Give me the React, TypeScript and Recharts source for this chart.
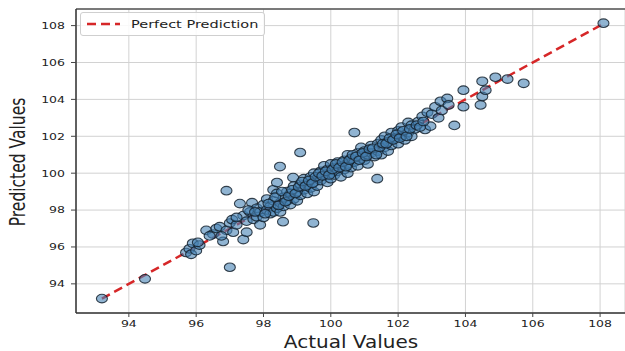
import React from "react";
import {
  ScatterChart,
  Scatter,
  XAxis,
  YAxis,
  CartesianGrid,
  ReferenceLine,
  Legend,
} from "recharts";

const actualValues: number[] = [
  93.2, 94.48, 95.7, 95.8, 95.85, 95.9, 96.0, 96.1, 96.05,
  96.3, 96.5, 96.6, 96.7, 96.8, 96.9, 96.9, 97.0, 97.0, 97.07, 97.1, 97.2, 97.3, 97.4, 97.4, 97.5, 97.5, 97.6,
  97.66, 97.7, 97.8, 97.8, 97.9, 97.9, 98.0, 98.0, 98.1, 98.1, 98.2, 98.2, 98.3, 98.3, 98.29, 98.4, 98.4, 98.4, 98.49, 98.5, 98.5, 98.58,
  98.6, 98.6, 98.7, 98.7, 98.8, 98.8, 98.88, 98.9, 98.9, 99.0, 99.0, 99.09, 99.1, 99.1, 99.2, 99.2, 99.3, 99.3, 99.4, 99.4, 99.48, 99.5, 99.5, 99.5,
  99.6, 99.6, 99.7, 99.7, 99.8, 99.8, 99.9, 99.9, 100.0, 100.0, 100.0, 100.1, 100.1, 100.2, 100.2, 100.3, 100.3, 100.4, 100.4, 100.5, 100.5, 100.5,
  100.6, 100.6, 100.7, 100.7, 100.8, 100.8, 100.9, 100.9, 101.0, 101.0, 101.1, 101.1, 101.2, 101.2, 101.3, 101.38, 101.4, 101.4, 101.5, 101.5,
  101.6, 101.6, 101.7, 101.7, 101.8, 101.8, 101.9, 102.0, 102.0, 102.1, 102.1, 102.2, 102.3, 102.3, 102.4, 102.4, 102.5,
  102.6, 102.72, 102.8, 102.87, 102.96, 103.0, 103.1, 103.2, 103.26, 103.3, 103.46, 103.5, 103.67, 103.94, 103.94, 104.45, 104.5, 104.6, 104.5, 104.89, 105.25, 105.73, 108.1,
  96.4, 96.75, 97.2, 97.55, 97.75, 98.05, 98.15, 98.35, 98.45, 98.55, 98.65, 98.75, 98.85, 98.95, 99.05, 99.15, 99.25, 99.35, 99.45, 99.55,
  99.65, 99.75, 99.85, 99.95, 100.05, 100.15, 100.25, 100.35, 100.45, 100.55, 100.65, 100.75, 100.85, 100.95, 101.05, 101.15, 101.25, 101.35,
  101.45, 101.55, 101.65, 101.75, 101.85, 101.95, 102.05, 102.15, 102.25, 102.35, 102.55, 102.65, 102.75,
];

const predictedValues: number[] = [
  93.2, 94.27, 95.7, 95.9, 95.6, 96.2, 95.8, 96.1, 96.25,
  96.9, 96.7, 97.0, 97.1, 96.3, 96.9, 99.05, 94.9, 97.3, 97.48, 96.8, 97.2, 98.35, 96.4, 97.7, 96.8, 97.4, 97.9,
  98.4, 97.5, 97.64, 98.1, 97.2, 97.9, 98.3, 97.6, 98.0, 98.6, 97.8, 98.2, 98.5, 97.9, 99.1, 98.9, 98.1, 99.49, 100.36, 98.4, 97.9, 97.37,
  98.7, 98.2, 99.0, 98.5, 98.3, 98.9, 99.76, 99.3, 98.6, 99.0, 98.5, 101.12, 99.4, 98.8, 99.1, 99.7, 98.9, 99.4, 99.8, 99.2, 97.3, 99.5, 99.0, 100.0,
  99.7, 99.3, 100.1, 99.6, 99.9, 100.4, 99.5, 100.2, 100.0, 100.5, 99.7, 100.3, 99.9, 100.6, 100.1, 99.8, 100.4, 100.7, 100.2, 100.5, 100.0, 101.0,
  100.3, 100.8, 102.2, 100.6, 101.1, 100.4, 100.9, 101.4, 100.7, 101.2, 101.0, 100.5, 101.5, 101.1, 100.9, 99.7, 101.6, 101.2, 101.0, 101.8,
  101.4, 102.0, 101.2, 101.7, 102.2, 101.5, 101.9, 102.3, 101.6, 102.0, 102.5, 101.8, 102.2, 102.75, 102.6, 102.0, 102.4,
  102.8, 103.08, 102.37, 103.3, 102.55, 103.2, 103.6, 103.0, 103.9, 103.4, 104.05, 103.7, 102.59, 104.5, 103.6, 103.7, 104.16, 104.5, 104.98, 105.2, 105.1, 104.87, 108.13,
  96.6, 96.6, 97.6, 98.0, 97.9, 97.8, 98.35, 98.7, 98.25, 99.0, 98.45, 98.75, 99.1, 98.9, 99.25, 99.55, 99.3, 99.6, 99.45, 99.8,
  100.0, 99.85, 100.1, 99.9, 100.2, 100.5, 100.3, 100.6, 100.35, 100.7, 101.0, 100.9, 100.7, 101.1, 100.9, 101.3, 101.35, 101.0,
  101.4, 101.6, 101.6, 101.9, 101.8, 102.1, 101.9, 102.3, 102.0, 102.4, 102.6, 102.5, 102.8,
];

const tickValues: number[] = [94, 96, 98, 100, 102, 104, 106, 108];
const lineStart = 93.2;
const lineEnd = 108.1;
const legendLabel = "Perfect Prediction";
const xLabel = "Actual Values";
const yLabel = "Predicted Values";

const data = actualValues.map((a, i) => ({ actual: a, predicted: predictedValues[i] }));

const FONT = "DejaVu Sans";

const XTick = (props: any) => {
  const { x, y, payload } = props;
  return (
    <g transform={`translate(${x},${y})`}>
      <text transform="scale(1,0.75)" y={0} dy="0.8em" textAnchor="middle" fontSize={12.5} fontFamily={FONT} fill="#222">
        {payload.value}
      </text>
    </g>
  );
};

const YTick = (props: any) => {
  const { x, y, payload } = props;
  return (
    <g transform={`translate(${x - 4},${y})`}>
      <text transform="scale(1,0.75)" dy="0.36em" textAnchor="end" fontSize={12.5} fontFamily={FONT} fill="#222">
        {payload.value}
      </text>
    </g>
  );
};

const Dot = (props: any) => {
  const { cx, cy } = props;
  if (cx == null || cy == null) return null;
  return (
    <ellipse
      cx={cx}
      cy={cy}
      rx={5.5}
      ry={4.3}
      fill="#4682b4"
      fillOpacity={0.6}
      stroke="#15222e"
      strokeOpacity={0.85}
      strokeWidth={1.1}
    />
  );
};

const LegendBox = () => (
  <div
    style={{
      display: "flex",
      alignItems: "center",
      border: "1px solid #cfcfcf",
      borderRadius: 3,
      background: "rgba(255,255,255,0.85)",
      width: 185,
      height: 24,
      boxSizing: "border-box",
      paddingLeft: 5,
    }}
  >
    <svg width={36} height={10} style={{ display: "block" }}>
      <line x1={1} y1={5} x2={34} y2={5} stroke="#d62728" strokeWidth={2.5} strokeDasharray="9 5" />
    </svg>
    <span
      style={{
        fontFamily: FONT,
        fontSize: 14.5,
        color: "#222",
        marginLeft: 9,
        display: "inline-block",
        transform: "scaleY(0.74)",
        whiteSpace: "nowrap",
        lineHeight: "14px",
      }}
    >
      {legendLabel}
    </span>
  </div>
);

const YLabel = () => (
  <text
    transform="translate(25,162) rotate(-90) scale(0.74,1)"
    textAnchor="middle"
    fontSize={21}
    fontFamily={FONT}
    fill="#222"
  >
    {yLabel}
  </text>
);

const XLabel = () => (
  <text
    transform="translate(351,348) scale(1,0.87)"
    textAnchor="middle"
    fontSize={20}
    fontFamily={FONT}
    fill="#222"
  >
    {xLabel}
  </text>
);

export default function App() {
  return (
    <div style={{ position: "absolute", left: 0, top: 0, width: 625, height: 351, background: "#fff", overflow: "hidden" }}>
      <ScatterChart width={625} height={351} margin={{ top: 9, right: 0, bottom: 0, left: 0 }}>
        <CartesianGrid stroke="#d2d2d2" strokeWidth={1} />
        <XAxis
          type="number"
          dataKey="actual"
          domain={[92.43, 108.74]}
          ticks={tickValues}
          allowDataOverflow
          height={38}
          tick={<XTick />}
          tickSize={4}
          tickLine={{ stroke: "#444" }}
          axisLine={{ stroke: "#333", strokeWidth: 1.5 }}
          label={<XLabel />}
        />
        <YAxis
          type="number"
          dataKey="predicted"
          domain={[92.42, 108.9]}
          ticks={tickValues}
          allowDataOverflow
          width={76}
          tick={<YTick />}
          tickSize={5}
          tickLine={{ stroke: "#444" }}
          axisLine={{ stroke: "#333", strokeWidth: 1.5 }}
          label={<YLabel />}
        />
        <ReferenceLine y={108.9} stroke="#555" strokeWidth={1.5} />
        <Scatter data={data} shape={<Dot />} isAnimationActive={false} />
        <ReferenceLine
          segment={[
            { x: lineStart, y: lineStart },
            { x: lineEnd, y: lineEnd },
          ]}
          stroke="#d62728"
          strokeWidth={2.5}
          strokeDasharray="9 5"
          ifOverflow="visible"
        />
        <Legend
          layout="horizontal"
          verticalAlign="middle"
          align="center"
          content={<LegendBox />}
          wrapperStyle={{ left: 80, top: 12, width: 185, height: 24 }}
        />
      </ScatterChart>
    </div>
  );
}
